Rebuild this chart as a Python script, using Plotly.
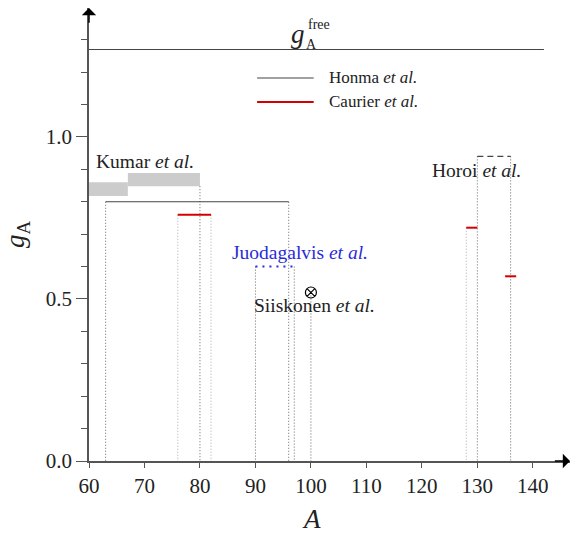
import plotly.graph_objects as go

# Free-nucleon axial coupling
ga_free = 1.27
ga_free_span = [60, 142]

# Honma et al.
honma_A = [63, 96]
honma_g = 0.80

# Caurier et al. (A-ranges and quenched g_A)
caurier_A = [[76, 82], [128, 130], [135, 137]]
caurier_g = [0.76, 0.72, 0.57]

# Kumar et al. (bands)
kumar_A = [[60, 67], [67, 80]]
kumar_lo = [0.818, 0.848]
kumar_hi = [0.860, 0.889]

# Juodagalvis et al.
juoda_A = [90, 97]
juoda_g = 0.60

# Siiskonen et al.
siisk_A = 100
siisk_g = 0.52

# Horoi et al.
horoi_A = [130, 136]
horoi_g = 0.94

x_ticks = [60, 70, 80, 90, 100, 110, 120, 130, 140]
y_ticks = [0.0, 0.5, 1.0]
y_ticktext = ["0.0", "0.5", "1.0"]
y_minor = [0.1, 0.2, 0.3, 0.4, 0.6, 0.7, 0.8, 0.9, 1.1, 1.2, 1.3]

X_MAX = 146.7
Y_MAX = 1.398

FONT = "Liberation Serif"
TXT = "#222222"
DARK = "#444444"
DROP_DARK = "#666666"
DROP_LIGHT = "#aaaaaa"
DOT = "1px,2px"
LABEL_SIZE = 19.5

fig = go.Figure()


def seg_trace(xs, ys, color, width, dash="solid"):
    return go.Scatter(x=xs, y=ys, mode="lines", showlegend=False, hoverinfo="skip",
                      line=dict(color=color, width=width, dash=dash), cliponaxis=False)


def drops(points):
    xs, ys = [], []
    for a, g in points:
        xs += [a, a, None]
        ys += [g, 0, None]
    return xs, ys


# Kumar bands
for (a0, a1), lo, hi in zip(kumar_A, kumar_lo, kumar_hi):
    fig.add_shape(type="rect", xref="x", yref="y", x0=a0, x1=a1, y0=lo, y1=hi,
                  line=dict(width=0), fillcolor="#cccccc", layer="below")

# Drop lines to the A axis
dark_pts = [(honma_A[0], honma_g), (honma_A[1], honma_g),
            (kumar_A[-1][1], kumar_lo[-1]),
            (juoda_A[0], juoda_g), (juoda_A[1], juoda_g),
            (siisk_A, siisk_g),
            (horoi_A[0], horoi_g), (horoi_A[1], horoi_g)]
light_pts = [(caurier_A[0][0], caurier_g[0]), (caurier_A[0][1], caurier_g[0]),
             (caurier_A[1][0], caurier_g[1])]
xs, ys = drops(dark_pts)
fig.add_trace(seg_trace(xs, ys, DROP_DARK, 1, DOT))
xs, ys = drops(light_pts)
fig.add_trace(seg_trace(xs, ys, DROP_LIGHT, 1, DOT))

# g_A free
fig.add_trace(seg_trace(ga_free_span, [ga_free, ga_free], DARK, 1.2))

# Honma
fig.add_trace(seg_trace(honma_A, [honma_g, honma_g], DARK, 1.2))

# Caurier
cx, cy = [], []
for (a0, a1), g in zip(caurier_A, caurier_g):
    cx += [a0, a1, None]
    cy += [g, g, None]
fig.add_trace(seg_trace(cx, cy, "#d40000", 2))

# Juodagalvis
fig.add_trace(seg_trace(juoda_A, [juoda_g, juoda_g], "#2b2bd9", 2, "2px,5px"))

# Horoi
fig.add_trace(seg_trace(horoi_A, [horoi_g, horoi_g], DARK, 1.2, "6px,4px"))

# Siiskonen
fig.add_trace(go.Scatter(x=[siisk_A], y=[siisk_g], mode="markers", showlegend=False,
                         hoverinfo="skip", cliponaxis=False,
                         marker=dict(symbol="circle-x-open", size=11, color="black",
                                     line=dict(color="black", width=1.2))))

# Legend
leg_A = [90.3, 100.5]
leg_g = [1.182, 1.108]
fig.add_trace(seg_trace(leg_A, [leg_g[0]] * 2, DARK, 1.2))
fig.add_trace(seg_trace(leg_A, [leg_g[1]] * 2, "#d40000", 2))

ann = []


def label(x, y, text, size=LABEL_SIZE, color=TXT, xanchor="center"):
    ann.append(dict(x=x, y=y, xref="x", yref="y", text=text, showarrow=False,
                    xanchor=xanchor, yanchor="middle",
                    font=dict(family=FONT, size=size, color=color)))


label(102.9, leg_g[0], "Honma <i>et al.</i>", size=17, xanchor="left")
label(102.9, leg_g[1], "Caurier <i>et al.</i>", size=17, xanchor="left")
label(70.1, 0.923, "Kumar <i>et al.</i>")
label(129.9, 0.898, "Horoi <i>et al.</i>")
label(98.0, 0.645, "Juodagalvis <i>et al.</i>", color="#2b2bd9")
label(100.6, 0.481, "Siiskonen <i>et al.</i>")

# g_A^free label
label(97.7, 1.318, "<i>g</i>", size=27)
label(99.1, 1.346, "free", size=14, xanchor="left")
label(98.7, 1.285, "A", size=14, xanchor="left")

# A-axis title
ann.append(dict(x=100.1, y=0, xref="x", yref="paper", yshift=-58, yanchor="middle",
                text="<i>A</i>", showarrow=False,
                font=dict(family=FONT, size=27, color=TXT)))

# arrows on the axes
ann.append(dict(x=X_MAX, y=0, ax=X_MAX - 3, ay=0, xref="x", yref="y", axref="x", ayref="y",
                text="", showarrow=True, arrowhead=1, arrowsize=1.6, arrowwidth=1.5,
                arrowcolor="black"))
ann.append(dict(x=60, y=Y_MAX, ax=60, ay=Y_MAX - 0.05, xref="x", yref="y", axref="x",
                ayref="y", text="", showarrow=True, arrowhead=1, arrowsize=1.6,
                arrowwidth=1.5, arrowcolor="black"))

fig.update_layout(
    width=571, height=533,
    margin=dict(l=89, r=1, t=8, b=72),
    plot_bgcolor="white", paper_bgcolor="white",
    annotations=ann,
    font=dict(family=FONT, color=TXT),
    xaxis=dict(range=[60, X_MAX], tickvals=x_ticks, showgrid=False, zeroline=False,
               showline=True, linecolor="#555555", linewidth=1.5, ticks="outside",
               ticklen=5, tickcolor="#555555", tickfont=dict(family=FONT, size=21)),
    yaxis=dict(range=[0, Y_MAX], tickvals=y_ticks, ticktext=y_ticktext, showgrid=False,
               zeroline=False, showline=True, linecolor="#555555", linewidth=1.5,
               ticks="outside", ticklen=11, tickcolor="#555555",
               tickfont=dict(family=FONT, size=21),
               title=dict(text="<i>g</i><sub>A</sub>", font=dict(family=FONT, size=27),
                          standoff=14),
               minor=dict(tickvals=y_minor, ticks="outside", ticklen=6,
                          tickcolor="#555555", showgrid=False)),
)

fig.write_html("out.html")
